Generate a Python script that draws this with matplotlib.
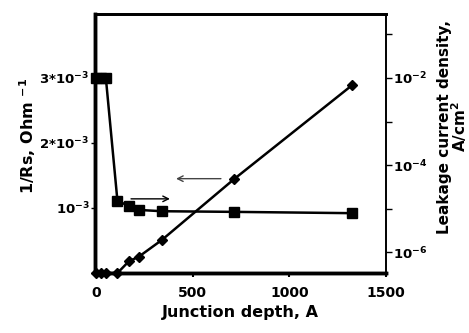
import matplotlib
matplotlib.use("Agg")
import matplotlib.pyplot as plt
from matplotlib.ticker import FixedLocator, FixedFormatter

plt.rcParams['font.family'] = ['DejaVu Sans']
plt.rcParams['font.weight'] = 'bold'
plt.rcParams['mathtext.fontset'] = 'dejavusans'
plt.rcParams['mathtext.default'] = 'bf'

# data
depth = [0, 25, 50, 110, 170, 220, 340, 715, 1326]
inv_rs = [3.0e-3, 3.0e-3, 3.0e-3, 1.11e-3, 1.03e-3, 0.97e-3, 0.95e-3, 0.94e-3, 0.92e-3]
leak_depth = [0, 25, 50, 110, 170, 220, 340, 715, 1326]
leakage = [3.3e-7, 3.3e-7, 3.3e-7, 3.3e-7, 6.2e-7, 7.8e-7, 1.9e-6, 4.8e-5, 6.9e-3]

x_ticks = [0, 500, 1000, 1500]
x_labels = ["0", "500", "1000", "1500"]
left_ticks = [0, 1e-3, 2e-3, 3e-3]
left_labels = ["", "10$^{-3}$", "2*10$^{-3}$", "3*10$^{-3}$"]
right_ticks = [1e-6, 1e-5, 1e-4, 1e-3, 1e-2, 1e-1]
right_labels = ["10$^{-6}$", "", "10$^{-4}$", "", "10$^{-2}$", ""]

fig = plt.figure(figsize=(4.69, 3.33), dpi=100)
ax = fig.add_axes([0.2026, 0.18, 0.8230 - 0.2026, 0.958 - 0.18])
ax2 = ax.twinx()

ax.plot(depth, inv_rs, color='black', lw=1.8, marker='s', ms=6.5, zorder=3, clip_on=False)
ax2.plot(leak_depth, leakage, color='black', lw=1.8, marker='D', ms=5, zorder=3, clip_on=False)

ax.set_xlim(-6, 1500)
ax.set_ylim(0, 3.98e-3)
ax2.set_yscale('log')
ax2.set_ylim(3.3e-7, 2.95e-1)

ax.xaxis.set_major_locator(FixedLocator(x_ticks))
ax.xaxis.set_major_formatter(FixedFormatter(x_labels))
ax.yaxis.set_major_locator(FixedLocator(left_ticks))
ax.yaxis.set_major_formatter(FixedFormatter(left_labels))
ax2.yaxis.set_major_locator(FixedLocator(right_ticks))
ax2.yaxis.set_major_formatter(FixedFormatter(right_labels))
ax2.yaxis.set_minor_locator(FixedLocator([]))

ax.tick_params(axis='x', direction='out', length=3, width=1.5, labelsize=10, pad=6)
ax.tick_params(axis='y', direction='out', length=3, width=1, labelsize=9.5, pad=1)
ax2.tick_params(axis='y', direction='out', length=4, width=1, labelsize=9.5, pad=1)

for ax_ in (ax, ax2):
    ax_.spines['left'].set_linewidth(2.5)
    ax_.spines['bottom'].set_linewidth(2.5)
    ax_.spines['top'].set_linewidth(2)
    ax_.spines['right'].set_linewidth(1.2)

ax.set_xlabel("Junction depth, A", fontsize=11.5, fontweight='bold', labelpad=4)
ax.set_ylabel("1/Rs, Ohm $^{-1}$", fontsize=11.5, fontweight='bold')
ax.yaxis.set_label_coords(-0.195, 0.53)
fig.text(453 / 469, 1 - 127 / 333, "Leakage current density,\nA/cm$^2$",
         rotation=90, ha='center', va='center', fontsize=11, fontweight='bold',
         linespacing=0.85, multialignment='center')

# arrows indicating axes
ax.annotate("", xy=(399, 1.45e-3), xytext=(660, 1.45e-3),
            arrowprops=dict(arrowstyle='->', color='#444444', lw=1.0))
ax.annotate("", xy=(396, 1.14e-3), xytext=(166, 1.14e-3),
            arrowprops=dict(arrowstyle='->', color='black', lw=1.0))

fig.savefig("out.png", dpi=100)
